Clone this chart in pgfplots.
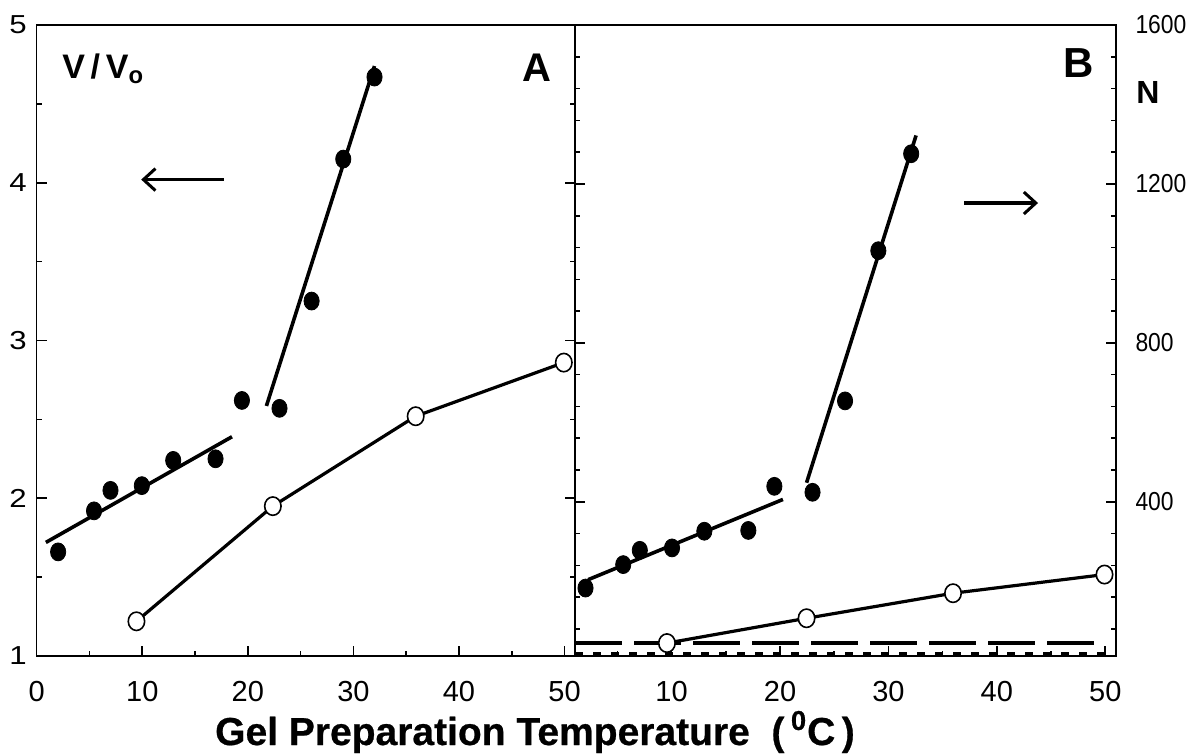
\documentclass[border=0pt]{standalone}
\usepackage{fontspec}
\setmainfont{Liberation Sans}
\newfontfamily\narrowfont[FakeStretch=0.88]{Liberation Sans}
\newfontfamily\widefont[FakeStretch=1.2]{Liberation Sans}
\newfontfamily\heavyfont[FakeBold=0.6]{Liberation Sans Bold}
\usepackage{pgfplots}
\pgfplotsset{compat=1.18}
\usetikzlibrary{arrows.meta}

\begin{document}
\begin{tikzpicture}
\tikzset{barb/.style={line width=1.6pt, -{Straight Barb[length=6pt,width=11pt,line width=1.5pt]}}}
\pgfplotsset{
  panel/.style={
    scale only axis,
    height=315.5pt,
    clip=false,
    axis line style={line width=0.8pt},
    every tick/.style={line width=0.8pt, black},
    major tick length=5pt,
    minor tick length=2.5pt,
    tick align=inside,
    xtick pos=left,
    ytick pos=both,
    /pgf/number format/assume math mode=true,
    /pgf/number format/1000 sep={},
    xticklabel style={font=\fontsize{14.5}{15}\selectfont, anchor=base, yshift=-22.5pt},
  },
  fitline/.style={line width=1.8pt, black},
  fdot/.style={only marks, mark=*, mark size=3.8pt, mark options={fill=black, yscale=1.18}},
  odot/.style={line width=1.6pt, black, mark=*, mark size=4.1pt,
    mark options={fill=white, draw=black, line width=0.8pt, yscale=1.12}},
}
% panel A --------------------------------
\begin{axis}[
  panel,
  name=A,
  width=269.2pt,
  xmin=0, xmax=51,
  ymin=1, ymax=5,
  xtick={0,10,...,50},
  minor xtick={5,15,...,45},
  ytick={1,2,...,5},
  minor ytick={1.5,2.5,3.5,4.5},
  yticklabel pos=left,
  yticklabel style={font=\widefont\fontsize{13}{13}\selectfont, anchor=east, inner sep=0pt, xshift=-4.8pt},
]
\addplot[fitline] coordinates {(0.87,1.72) (18.5,2.39)};
\addplot[fitline] coordinates {(21.76,2.585) (32.0,4.74)};
\addplot[fdot] coordinates {
  (2.03,1.66) (5.43,1.92) (6.99,2.05) (9.96,2.08) (12.93,2.24) (16.94,2.25)
  (19.44,2.62) (23.0,2.57) (26.04,3.25) (29.04,4.15) (32.0,4.67)};
\addplot[odot] coordinates {(9.45,1.22) (22.37,1.95) (35.9,2.52) (49.93,2.86)};
\draw[barb] (axis cs:17.7,4.02) -- (axis cs:9.9,4.02);
\node[anchor=base west, inner sep=0pt, font=\bfseries\fontsize{17}{17}\selectfont]
  at (rel axis cs:0.047,0.916) {V\,/\,V\textsubscript{o}};
\node[anchor=base, inner sep=0pt, font=\bfseries\fontsize{20}{20}\selectfont]
  at (rel axis cs:0.929,0.91) {A};
\end{axis}

% panel B --------------------------------
\begin{axis}[
  panel,
  name=B,
  at={(A.south east)}, anchor=south west,
  width=270.5pt,
  xmin=1.1, xmax=51,
  ymin=12, ymax=1600,
  xtick={10,20,...,50},
  minor xtick={5,15,...,45},
  ytick={400,800,1200,1600},
  minor ytick={80,160,...,1520},
  yticklabel pos=right,
  yticklabel style={font=\narrowfont\fontsize{13}{13}\selectfont, anchor=west, inner sep=0pt, xshift=9.5pt},
]
\addplot[line width=1.9pt, black, dash pattern=on 23.5pt off 6pt] coordinates {(1.1,44.5) (49.8,44.5)};
\addplot[line width=1.2pt, black, dash pattern=on 4pt off 5pt] coordinates {(1.1,18) (50,18)};
\addplot[fitline] coordinates {(2.3,204) (20.27,406)};
\addplot[fitline] coordinates {(22.45,448) (32.55,1322)};
\addplot[fdot] coordinates {
  (2.06,183) (5.54,242) (7.07,278) (10.04,284) (13.02,326) (17.08,328)
  (19.48,439) (23.0,424) (26.0,654) (29.07,1032) (32.1,1276)};
\addplot[odot] coordinates {(9.57,44.5) (22.45,107) (35.96,170) (49.93,217)};
\draw[barb] (axis cs:37.0,1152) -- (axis cs:43.8,1152);
\node[anchor=base, inner sep=0pt, font=\bfseries\fontsize{21}{21}\selectfont]
  at (rel axis cs:0.93,0.916) {B};
\node[anchor=base, inner sep=0pt, font=\bfseries\fontsize{16}{16}\selectfont]
  at (rel axis cs:1.059,0.876) {N};
\end{axis}

% common x label
\node[anchor=base, inner sep=0pt, font=\heavyfont\fontsize{19.5}{20}\selectfont]
  at ([xshift=249.15pt,yshift=-44.5pt]A.south west)
  {Gel Preparation Temperature\ \ (\,\textsuperscript{0}C\,)};

\pgfresetboundingbox
\path[use as bounding box] ([xshift=-18.35pt,yshift=-49.5pt]A.south west) rectangle ++(593.5pt,377.5pt);
\end{tikzpicture}
\end{document}
